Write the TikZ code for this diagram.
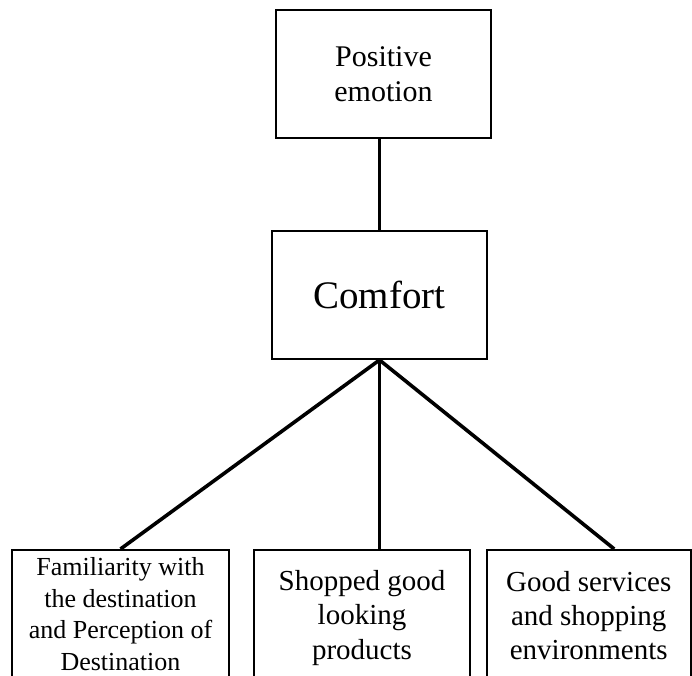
\documentclass[tikz,border=0pt]{standalone}
\usepackage{fontspec}
\setmainfont{Liberation Serif}
\usetikzlibrary{calc}
\begin{document}
\begin{tikzpicture}[x=1pt,y=-1pt,
  box/.style={draw, line width=2pt, rectangle, align=center, inner sep=0pt},
  link/.style={line width=3.6pt}]
\useasboundingbox (0,0) rectangle (692,675);
\clip (0,0) rectangle (692,675);

% upper levels
\node[box, minimum width=215pt, minimum height=128pt,
      font=\fontsize{30}{35}\selectfont] (pe) at (383.5,74) {Positive\\emotion};
\node[box, minimum width=215pt, minimum height=128pt,
      font=\fontsize{39}{45}\selectfont] (cf) at (379.5,295) {Comfort};

% lower level (boxes run past the bottom edge)
\node[box, anchor=north, minimum width=217pt, minimum height=128pt,
      font=\fontsize{26}{31.5}\selectfont] (b1) at (120.5,549)
      {Familiarity with\\the destination\\and Perception of\\Destination};
\node[box, anchor=north, minimum width=216pt, minimum height=136pt,
      font=\fontsize{29}{34.5}\selectfont] (b2) at (362,549)
      {Shopped good\\looking\\products};
\node[box, anchor=north, minimum width=203.5pt, minimum height=132pt,
      font=\fontsize{29}{34}\selectfont] (b3) at (588.75,549)
      {Good services\\and shopping\\environments};

% connectors
\draw[link] (cf.north) -- (cf.north |- pe.south);
\draw[link] (cf.south) -- (b1.north);
\draw[link] (cf.south) -- (cf.south |- b2.north);
\draw[link] (cf.south) -- ($(b3.north west)!0.624!(b3.north east)$);
\end{tikzpicture}
\end{document}
